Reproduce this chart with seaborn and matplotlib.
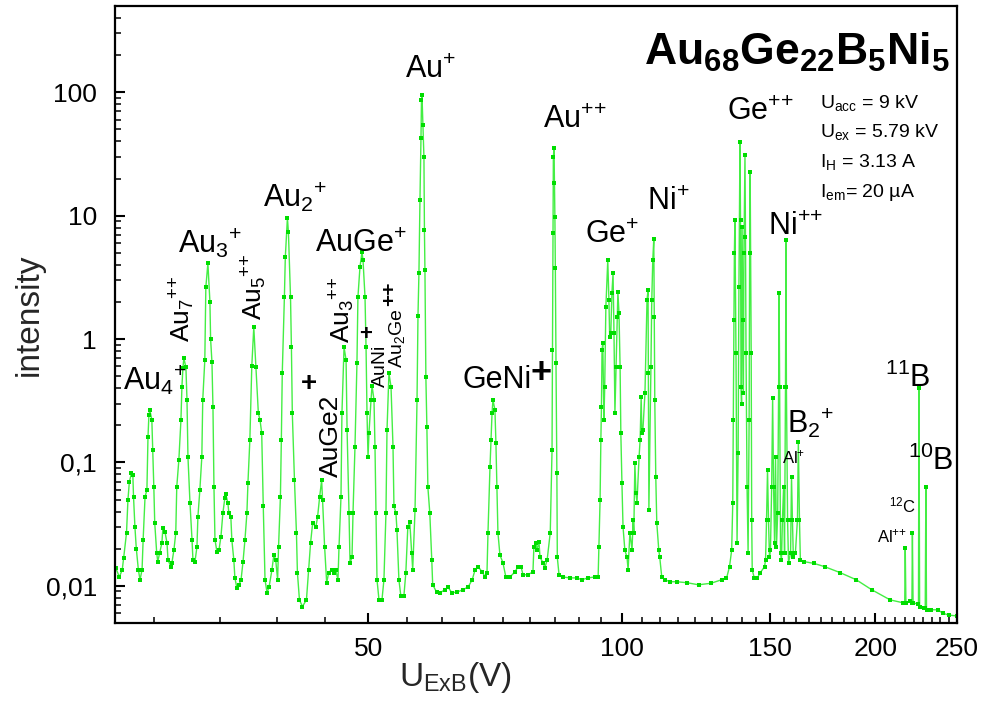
import matplotlib
matplotlib.use("Agg")
import numpy as np
import pandas as pd
import matplotlib.pyplot as plt
import seaborn as sns
from matplotlib.ticker import FixedLocator, LogLocator, NullFormatter

# -------------------------------
# Spectrum values (U_ExB in V, intensity)
# -------------------------------

u_exb = [
    25.05, 25.3, 25.5, 25.6, 25.8, 25.9, 26.0, 26.15, 26.25, 26.3,
    26.4, 26.5, 26.65, 26.77, 26.92, 27.0, 27.14, 27.28, 27.36, 27.43,
    27.5, 27.65, 27.72, 27.8, 27.87, 28.02, 28.1, 28.25, 28.42, 28.5,
    28.66, 28.82, 28.9, 29.13, 29.21, 29.37, 29.52, 29.6, 29.77, 29.94,
    30.02, 30.1, 30.18, 30.35, 30.44, 30.52, 30.69, 30.86, 30.94, 31.11,
    31.28, 31.36, 31.53, 31.7, 31.78, 31.96, 32.05, 32.23, 32.41, 32.47,
    32.59, 32.68, 32.77, 32.86, 33.04, 33.22, 33.4, 33.58, 33.76, 33.85,
    34.04, 34.13, 34.32, 34.41, 34.6, 34.7, 34.89, 35.09, 35.29, 35.48,
    35.67, 35.86, 35.96, 36.15, 36.34, 36.54, 36.75, 37.0, 37.17, 37.34,
    37.5, 37.68, 37.89, 38.1, 38.4, 38.6, 38.8, 39.0, 39.1, 39.3,
    39.4, 39.5, 39.73, 39.83, 40.06, 40.17, 40.4, 40.5, 40.6, 40.84,
    41.06, 41.17, 41.4, 41.74, 42.2, 42.45, 42.68, 42.92, 43.3, 43.5,
    43.75, 43.99, 44.1, 44.35, 44.6, 44.85, 45.2, 45.45, 45.7, 46.0,
    46.13, 46.38, 46.5, 46.77, 47.03, 47.16, 47.41, 47.54, 47.8, 47.93,
    48.19, 48.45, 48.58, 48.85, 49.12, 49.26, 49.53, 49.67, 49.8, 49.94,
    50.07, 50.35, 50.49, 50.76, 50.9, 51.04, 51.18, 51.46, 51.88, 52.16,
    52.45, 52.6, 52.88, 53.18, 53.47, 53.61, 53.9, 54.05, 54.34, 54.64,
    55.08, 55.38, 55.68, 55.98, 56.28, 56.43, 56.79, 57.1, 57.25, 57.4,
    57.56, 57.72, 57.8, 57.88, 58.03, 58.19, 58.27, 58.35, 58.5, 58.66,
    58.82, 59.13, 59.45, 59.6, 60.25, 60.8, 61.64, 62.14, 62.8, 63.69,
    64.75, 65.67, 66.4, 66.93, 67.5, 68.22, 68.8, 69.14, 69.33, 69.71,
    69.9, 70.1, 70.28, 70.66, 70.85, 71.05, 71.24, 71.63, 72.22, 72.8,
    73.63, 74.65, 75.26, 75.88, 76.3, 77.34, 78.4, 78.6, 79.05, 79.27,
    79.7, 79.93, 80.6, 81.0, 81.5, 82.2, 82.6, 82.7, 82.8, 82.9,
    83.05, 83.15, 83.25, 83.35, 83.5, 83.7, 83.8, 84.2, 85.1, 86.75,
    88.4, 89.6, 91.1, 92.9, 93.7, 93.9, 94.2, 94.4, 94.55, 94.7,
    94.9, 95.2, 95.4, 95.7, 96.2, 96.5, 96.7, 97.0, 97.3, 97.6,
    97.85, 98.1, 98.4, 98.7, 98.9, 99.2, 99.5, 99.7, 100.0, 100.3,
    100.8, 101.4, 101.7, 102.2, 102.8, 103.1, 103.3, 103.6, 103.9, 104.2,
    104.8, 105.1, 105.4, 105.6, 105.9, 106.5, 107.1, 107.4, 107.5, 107.65,
    108.25, 108.5, 108.8, 109.1, 109.25, 109.4, 109.7, 110.0, 110.6, 110.9,
    111.5, 112.5, 114.0, 116.2, 119.5, 123.3, 127.6, 131.3, 133.1, 134.2,
    135.0, 135.4, 135.6, 135.8, 136.0, 136.2, 136.6, 137.0, 137.4, 137.7,
    138.1, 138.3, 138.5, 138.7, 138.9, 139.2, 139.4, 139.6, 140.0, 140.2,
    140.4, 140.8, 141.2, 141.6, 141.8, 142.0, 142.4, 142.6, 142.8, 143.6,
    144.8, 146.0, 147.7, 148.1, 148.5, 148.9, 149.3, 149.7, 150.1, 150.6,
    151.0, 151.4, 151.8, 152.2, 152.6, 153.1, 153.5, 153.7, 153.9, 154.3,
    154.7, 155.1, 155.6, 156.0, 156.4, 156.6, 156.8, 157.3, 157.7, 158.6,
    159.0, 159.4, 159.8, 160.7, 161.6, 162.0, 162.5, 162.9, 164.7, 169.1,
    174.1, 181.6, 189.8, 198.0, 208.2, 215.5, 216.7, 217.0, 217.4, 219.8,
    221.0, 221.3, 221.7, 224.7, 225.0, 225.3, 225.7, 228.4, 229.2, 229.6,
    230.0, 232.7, 237.2, 240.5, 244.4, 250.0,
]

intensity = [
    0.014, 0.0118, 0.0135, 0.0169, 0.0269, 0.0497, 0.0695, 0.082, 0.079, 0.0525,
    0.030, 0.020, 0.0135, 0.0112, 0.0135, 0.0237, 0.0525, 0.060, 0.161, 0.243,
    0.266, 0.221, 0.126, 0.0634, 0.0323, 0.0185, 0.0157, 0.0185, 0.0223, 0.0295,
    0.0274, 0.0223, 0.0162, 0.0143, 0.0154, 0.0195, 0.0269, 0.0634, 0.105, 0.221,
    0.409, 0.58, 0.70, 0.59, 0.321, 0.111, 0.047, 0.0237, 0.0162, 0.0157,
    0.0207, 0.036, 0.060, 0.111, 0.321, 0.676, 2.63, 4.12, 2.0, 1.0,
    0.65, 0.28, 0.063, 0.0237, 0.0188, 0.0195, 0.025, 0.039, 0.0515, 0.055,
    0.047, 0.039, 0.036, 0.0237, 0.0162, 0.0116, 0.0096, 0.0102, 0.0112, 0.0157,
    0.0237, 0.039, 0.068, 0.152, 0.6, 1.25, 0.59, 0.25, 0.22, 0.173,
    0.044, 0.0112, 0.0088, 0.0098, 0.0135, 0.0178, 0.0162, 0.0112, 0.0207, 0.0525,
    0.152, 0.53, 2.19, 4.6, 9.6, 7.35, 2.19, 0.86, 0.25, 0.072,
    0.027, 0.0128, 0.0077, 0.0068, 0.0077, 0.0135, 0.0223, 0.0323, 0.030, 0.036,
    0.0525, 0.072, 0.050, 0.0207, 0.0106, 0.0128, 0.0135, 0.0128, 0.0135, 0.0112,
    0.0207, 0.0525, 0.25, 0.86, 0.676, 0.183, 0.039, 0.0154, 0.017, 0.039,
    0.134, 0.64, 2.19, 3.83, 5.06, 4.36, 2.19, 0.86, 0.25, 0.111,
    0.173, 0.321, 0.42, 0.321, 0.134, 0.039, 0.0112, 0.0077, 0.0077, 0.0112,
    0.039, 0.183, 0.53, 0.41, 0.134, 0.044, 0.039, 0.0284, 0.0112, 0.0082,
    0.0082, 0.0128, 0.030, 0.033, 0.0185, 0.0135, 0.0413, 0.321, 1.55, 3.42,
    13.3, 42.4, 86.0, 94.6, 54.0, 29.8, 7.6, 3.6, 0.49, 0.194,
    0.063, 0.039, 0.0162, 0.0102, 0.0089, 0.0088, 0.0093, 0.0098, 0.0088, 0.0089,
    0.0093, 0.0098, 0.0112, 0.0135, 0.0143, 0.013, 0.0118, 0.0128, 0.027, 0.092,
    0.152, 0.25, 0.321, 0.266, 0.144, 0.063, 0.027, 0.0178, 0.0154, 0.0118,
    0.0118, 0.013, 0.0143, 0.0143, 0.0123, 0.0123, 0.013, 0.0207, 0.0223, 0.0195,
    0.0228, 0.017, 0.0154, 0.014, 0.0162, 0.027, 0.126, 0.81, 7.2, 29.8,
    35.3, 18.3, 9.7, 3.8, 0.64, 0.082, 0.017, 0.0123, 0.0118, 0.0116,
    0.0116, 0.0112, 0.0116, 0.0118, 0.0118, 0.0207, 0.050, 0.152, 0.28, 0.81,
    0.93, 0.221, 0.41, 1.81, 4.36, 2.07, 1.04, 1.12, 2.36, 3.42,
    1.12, 0.25, 0.59, 1.5, 2.4, 1.62, 0.59, 0.173, 0.068, 0.030,
    0.0195, 0.017, 0.0135, 0.027, 0.0195, 0.0342, 0.027, 0.099, 0.0568, 0.047,
    0.111, 0.152, 0.34, 0.173, 0.183, 0.365, 2.07, 2.5, 0.53, 0.0413,
    0.59, 2.07, 4.36, 6.45, 1.5, 0.321, 0.076, 0.0323, 0.0195, 0.017,
    0.0118, 0.0112, 0.0108, 0.0108, 0.0106, 0.0102, 0.0105, 0.0112, 0.0115, 0.0143,
    0.0195, 0.047, 0.221, 1.42, 4.96, 9.2, 0.77, 0.0223, 0.119, 2.63,
    39.4, 9.2, 0.41, 0.30, 8.07, 1.42, 0.365, 4.96, 30.9, 6.7,
    0.77, 0.063, 0.0185, 0.221, 4.96, 22.5, 0.77, 0.0342, 0.0135, 0.0116,
    0.0116, 0.0128, 0.0143, 0.0162, 0.0342, 0.087, 0.0342, 0.017, 0.0195, 0.063,
    0.333, 0.063, 0.0223, 0.111, 0.0207, 0.039, 0.41, 2.36, 0.41, 0.0185,
    0.0162, 0.0342, 0.063, 0.0185, 0.41, 6.3, 0.41, 0.0342, 0.0154, 0.0185,
    0.076, 0.0342, 0.017, 0.0185, 0.0342, 0.147, 0.0342, 0.0162, 0.0157, 0.0152,
    0.0143, 0.0128, 0.0112, 0.0093, 0.0077, 0.0073, 0.0073, 0.0204, 0.0073, 0.0075,
    0.0073, 0.027, 0.0073, 0.0071, 0.0071, 0.40, 0.0068, 0.0066, 0.0066, 0.063,
    0.0064, 0.0064, 0.0064, 0.006, 0.0058, 0.0057,
]

y_ticks = [0.01, 0.1, 1, 10, 100]
y_tick_labels = ["0,01", "0,1", "1", "10", "100"]
x_ticks = [50, 100, 150, 200, 250]
x_tick_labels = ["50", "100", "150", "200", "250"]

# peak labels: text, x (axes frac), y (axes frac), size, rotation
# (the "{" before each "+" keeps mathtext from spacing it as an operator)
peak_labels = [
    (r"Au$^{+}$", 0.344, 0.883, 22, 0),
    (r"Au$^{+{+}}$", 0.508, 0.802, 22, 0),
    (r"Au$_2$$^{+}$", 0.176, 0.674, 22, 0),
    (r"Au$_3$$^{+}$", 0.075, 0.600, 22, 0),
    (r"AuGe$^{+}$", 0.2375, 0.601, 22, 0),
    (r"Ge$^{+}$", 0.558, 0.616, 22, 0),
    (r"Ni$^{+}$", 0.632, 0.669, 22, 0),
    (r"Ge$^{+{+}}$", 0.727, 0.815, 22, 0),
    (r"Ni$^{+{+}}$", 0.7755, 0.629, 22, 0),
    (r"Au$_4$$^{+}$", 0.0095, 0.378, 22, 0),
    ("GeNi", 0.413, 0.381, 22, 0),
    (r"$^{11}$B", 0.9145, 0.3825, 22, 0),
    (r"$^{10}$B", 0.942, 0.248, 22, 0),
    (r"B$_2$$^{+}$", 0.798, 0.308, 22, 0),
    (r"Al$^{+}$", 0.792, 0.259, 12, 0),
    (r"$^{12}$C", 0.919, 0.180, 12, 0),
    (r"Al$^{+{+}}$", 0.905, 0.130, 12, 0),
    (r"Au$_7$$^{+{+}}$", 0.089, 0.455, 19, 90),
    (r"Au$_5$$^{+{+}}$", 0.1746, 0.491, 19, 90),
    (r"Au$_3$$^{+{+}}$", 0.2791, 0.454, 19, 90),
    ("AuGe2", 0.2648, 0.2366, 19, 90),
    ("AuNi", 0.3207, 0.382, 14, 90),
    (r"Au$_2$Ge", 0.341, 0.413, 14, 90),
]

# loose bold plus signs: text, x, y, size, rotation
plus_marks = [
    ("+", 0.5065, 0.405, 26, 0),
    ("+", 0.2304, 0.3874, 20, 0),
    ("+", 0.2981, 0.4668, 16, 0),
    ("++", 0.3266, 0.5332, 15, 90),
]

info_lines = [
    (r"U$_{acc}$ = 9 kV", 0.8347),
    (r"U$_{ex}$ = 5.79 kV", 0.7877),
    (r"I$_H$ = 3.13 A", 0.739),
    (r"I$_{em}$= 20 µA", 0.690),
]

# -------------------------------
# Plot
# -------------------------------

sns.set_theme(style="ticks")
plt.rcParams["font.family"] = ["Liberation Sans", "DejaVu Sans"]
plt.rcParams["mathtext.default"] = "regular"

df = pd.DataFrame({"U": u_exb, "I": intensity})

fig = plt.figure(figsize=(9.82, 7.21), dpi=100)
ax = fig.add_axes([115 / 982, 98 / 721, 842 / 982, 617 / 721])

sns.lineplot(
    data=df, x="U", y="I", ax=ax, estimator=None, sort=False,
    color="#44ee44", linewidth=1.0, marker="s", markersize=2.6,
    markerfacecolor="#00dd00", markeredgecolor="#00dd00", markeredgewidth=0,
)

ax.set_xscale("log")
ax.set_yscale("log")
ax.set_xlim(25, 250)
ax.set_ylim(0.005, 500)

ax.set_xticks(x_ticks)
ax.set_xticklabels(x_tick_labels)
minor_x = [50 * k + j * 50 / 9 for k in range(5) for j in range(1, 9)]
ax.xaxis.set_minor_locator(FixedLocator([v for v in minor_x if 25 < v < 250]))
ax.xaxis.set_minor_formatter(NullFormatter())

ax.set_yticks(y_ticks)
ax.set_yticklabels(y_tick_labels)
ax.yaxis.set_minor_locator(LogLocator(base=10, subs=np.arange(2, 10)))
ax.yaxis.set_minor_formatter(NullFormatter())

ax.tick_params(which="major", direction="in", length=7, width=1.5, colors="black", labelsize=19)
ax.tick_params(axis="y", which="major", pad=13)
ax.tick_params(axis="x", which="major", pad=10)
ax.tick_params(which="minor", direction="in", length=4, width=1.1, colors="black")

for side in ["left", "right", "top", "bottom"]:
    ax.spines[side].set_linewidth(1.6)
    ax.spines[side].set_color("black")

ax.set_xlabel(r"U$_{ExB}$(V)", fontsize=24)
ax.xaxis.set_label_coords(0.404, -0.06)
ax.set_ylabel("intensity", fontsize=24)
ax.yaxis.set_label_coords(-0.084, 0.5)

for txt, xf, yf, size, rot in peak_labels:
    ax.text(xf, yf, txt, transform=ax.transAxes, fontsize=size, rotation=rot,
            rotation_mode="anchor", ha="left", va="baseline", color="black")

for txt, xf, yf, size, rot in plus_marks:
    ax.text(xf, yf, txt, transform=ax.transAxes, fontsize=size, rotation=rot,
            fontweight="bold", ha="center", va="center", color="black")

ax.text(0.9917, 0.9044, r"Au$_{68}$Ge$_{22}$B$_5$Ni$_5$", transform=ax.transAxes,
        fontsize=32, fontweight="bold", ha="right", va="baseline", color="black")

for txt, yf in info_lines:
    ax.text(0.8373, yf, txt, transform=ax.transAxes, fontsize=14,
            ha="left", va="baseline", color="black")

fig.savefig("out.png", dpi=100)
